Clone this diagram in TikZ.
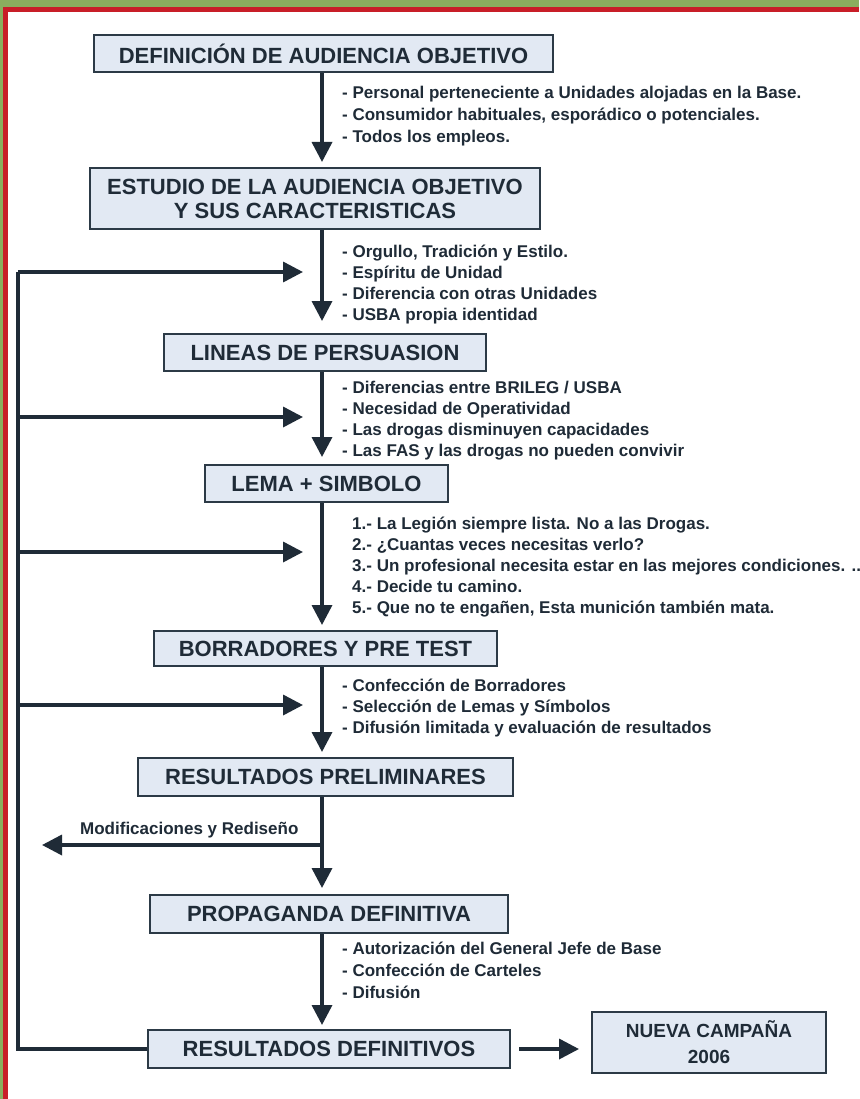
\documentclass[tikz,border=0pt]{standalone}
\usepackage{fontspec}
\setmainfont{Liberation Sans}
\usetikzlibrary{arrows.meta}
\definecolor{frgreen}{HTML}{8AAE5E}
\definecolor{frred}{HTML}{C81E28}
\definecolor{ink}{HTML}{1F2B37}
\definecolor{boxfill}{HTML}{E2E9F3}
\definecolor{boxline}{HTML}{2C3A46}
\begin{document}
\begin{tikzpicture}[x=1pt,y=-1pt,
  box/.style={draw=boxline, line width=2pt, fill=boxfill, text=ink,
    font=\fontsize{22}{24}\selectfont\bfseries, inner sep=0pt, align=center},
  bul/.style={text=ink, font=\fontsize{17}{20}\selectfont\bfseries, inner sep=0pt, anchor=base west},
  arr/.style={draw=ink, line width=3.5pt, -{Triangle[length=20pt,width=20pt]}},
  ln/.style={draw=ink, line width=3.5pt, line join=miter}]
\useasboundingbox (0,0) rectangle (859,1099);
\fill[white] (0,0) rectangle (859,1099);
\fill[frgreen] (0,0) rectangle (859,7);
\fill[frgreen] (0,0) rectangle (3,1099);
\fill[frred] (3,7) rectangle (859,12);
\fill[frred] (3,7) rectangle (8,1099);

% boxes
\node[box, minimum width=459pt, minimum height=37pt] (b1) at (323.5,53.5) {DEFINICIÓN DE AUDIENCIA OBJETIVO};
\node[box, minimum width=450pt, minimum height=61pt] (b2) at (315,198.5) {ESTUDIO DE LA AUDIENCIA OBJETIVO\\Y SUS CARACTERISTICAS};
\node[box, minimum width=322pt, minimum height=37pt] (b3) at (325,352.5) {LINEAS DE PERSUASION};
\node[box, minimum width=243pt, minimum height=37pt] (b4) at (326.5,483.5) {LEMA + SIMBOLO};
\node[box, minimum width=343pt, minimum height=35pt] (b5) at (325.5,648.5) {BORRADORES Y PRE TEST};
\node[box, minimum width=375pt, minimum height=38pt] (b6) at (325.5,777) {RESULTADOS PRELIMINARES};
\node[box, minimum width=358pt, minimum height=38pt] (b7) at (329,914) {PROPAGANDA DEFINITIVA};
\node[box, minimum width=362pt, minimum height=38pt] (b8) at (329,1049) {RESULTADOS DEFINITIVOS};
\node[box, minimum width=234pt, minimum height=61pt, font=\fontsize{19}{26}\selectfont\bfseries] (b9) at (709,1042.5) {NUEVA CAMPAÑA\\2006};

% spine
\coordinate (sp) at (322,0);
\draw[arr, shorten >=5pt] (b1.south -| sp) -- (b2.north -| sp);
\draw[arr, shorten >=12pt] (b2.south -| sp) -- (b3.north -| sp);
\draw[arr, shorten >=7pt] (b3.south -| sp) -- (b4.north -| sp);
\draw[arr, shorten >=5pt] (b4.south -| sp) -- (b5.north -| sp);
\draw[arr, shorten >=5pt] (b5.south -| sp) -- (b6.north -| sp);
\draw[arr, shorten >=6pt] (b6.south -| sp) -- (b7.north -| sp);
\draw[arr, shorten >=4pt] (b7.south -| sp) -- (b8.north -| sp);
\draw[arr, shorten <=8pt, shorten >=12pt] (b8.east) -- (b8.east -| b9.west);

% modifications branch
\coordinate (mf) at (322,845);
\coordinate (mt) at (42,845);
\draw[arr] (mf) -- (mt);
\node[bul] (mod) at (80,834) {Modificaciones y Rediseño};

% feedback loop
\coordinate (L1) at (18,272);
\coordinate (L2) at (18,417);
\coordinate (L3) at (18,552);
\coordinate (L4) at (18,705);
\coordinate (f1) at (303,272);
\coordinate (f2) at (303,417);
\coordinate (f3) at (303,552);
\coordinate (f4) at (303,705);
\draw[ln] (L1) |- (b8.west);
\draw[arr] (L1) -- (f1);
\draw[arr] (L2) -- (f2);
\draw[arr] (L3) -- (f3);
\draw[arr] (L4) -- (f4);

% bullet texts
\node[bul] (t11) at (342,99) {- Personal perteneciente a Unidades alojadas en la Base.};
\node[bul] (t12) at (342,121) {- Consumidor habituales, esporádico o potenciales.};
\node[bul] (t13) at (342,143) {- Todos los empleos.};

\node[bul] (t21) at (342,258) {- Orgullo, Tradición y Estilo.};
\node[bul] (t22) at (342,278) {- Espíritu de Unidad};
\node[bul] (t23) at (342,299) {- Diferencia con otras Unidades};
\node[bul] (t24) at (342,320) {- USBA propia identidad};

\node[bul] (t31) at (342,393) {- Diferencias entre BRILEG / USBA};
\node[bul] (t32) at (342,414) {- Necesidad de Operatividad};
\node[bul] (t33) at (342,435) {- Las drogas disminuyen capacidades};
\node[bul] (t34) at (342,456) {- Las FAS y las drogas no pueden convivir};

\node[bul] (t41) at (352,529) {1.- La Legión siempre lista. No a las Drogas.};
\node[bul] (t42) at (352,550) {2.- ¿Cuantas veces necesitas verlo?};
\node[bul] (t43) at (352,571) {3.- Un profesional necesita estar en las mejores condiciones. ..};
\node[bul] (t44) at (352,592) {4.- Decide tu camino.};
\node[bul] (t45) at (352,613) {5.- Que no te engañen, Esta munición también mata.};

\node[bul] (t51) at (342,691) {- Confección de Borradores};
\node[bul] (t52) at (342,712) {- Selección de Lemas y Símbolos};
\node[bul] (t53) at (342,733) {- Difusión limitada y evaluación de resultados};

\node[bul] (t71) at (342,954) {- Autorización del General Jefe de Base};
\node[bul] (t72) at (342,976) {- Confección de Carteles};
\node[bul] (t73) at (342,998) {- Difusión};
\end{tikzpicture}
\end{document}
